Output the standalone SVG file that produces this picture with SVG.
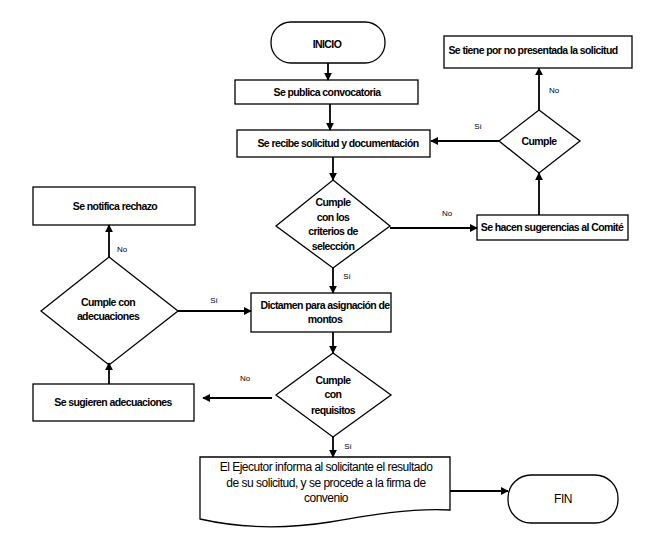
<svg xmlns="http://www.w3.org/2000/svg" width="664" height="550" viewBox="0 0 664 550">
<defs>
<marker id="ah" viewBox="0 0 10 10" refX="9" refY="5" markerWidth="4.5" markerHeight="4.5" orient="auto" markerUnits="strokeWidth">
<path d="M0,0 L10,5 L0,10 z" fill="#000"/>
</marker>
<style>
.box{fill:#fff;stroke:#000;stroke-width:1.3}
.t{font-family:"Liberation Sans",Arial,sans-serif;font-weight:bold;font-size:10.5px;letter-spacing:-0.6px;text-anchor:middle;fill:#000}
.n{font-family:"Liberation Sans",Arial,sans-serif;font-size:12px;letter-spacing:-0.5px;text-anchor:middle;fill:#000}
.l{font-family:"Liberation Sans",Arial,sans-serif;font-size:8px;text-anchor:middle;fill:#000}
.c{fill:none;stroke:#000;stroke-width:1.8;marker-end:url(#ah)}
</style>
</defs>
<rect width="664" height="550" fill="#fff"/>
<g id="inicio"><rect class="box" x="271" y="22" width="114" height="41" rx="20"/><text class="t" x="327" y="48">INICIO</text></g>
<g id="publica"><rect class="box" x="235" y="80" width="183" height="24"/><text class="t" x="327" y="96">Se publica convocatoria</text></g>
<g id="recibe"><rect class="box" x="237" y="130" width="193" height="27"/><text class="t" x="338" y="147">Se recibe solicitud y documentación</text></g>
<g id="criterios"><polygon class="box" points="333,180 390,226 333,268 276,226"/>
<text class="t" x="333" y="206">Cumple</text><text class="t" x="333" y="221">con los</text><text class="t" x="333" y="235">criterios de</text><text class="t" x="333" y="250">selección</text></g>
<g id="sugerencias"><rect class="box" x="477" y="215" width="151" height="25"/><text class="t" x="552" y="231">Se hacen sugerencias al Comité</text></g>
<g id="cumple"><polygon class="box" points="539,110 580,141 539,173 499,141"/><text class="t" x="539" y="145">Cumple</text></g>
<g id="nopresentada"><rect class="box" x="444" y="36" width="188" height="32"/><text class="t" x="533" y="54">Se tiene por no presentada la solicitud</text></g>
<g id="dictamen"><rect class="box" x="251" y="293" width="140" height="39"/><text class="t" x="325" y="309">Dictamen para asignación de</text><text class="t" x="325" y="323">montos</text></g>
<g id="adecuaciones"><polygon class="box" points="109,257 178,311 109,365 41,311"/><text class="t" x="108" y="306">Cumple con</text><text class="t" x="108" y="320">adecuaciones</text></g>
<g id="rechazo"><rect class="box" x="33" y="187" width="162" height="38"/><text class="t" x="115" y="210">Se notifica rechazo</text></g>
<g id="requisitos"><polygon class="box" points="333,353 391,395 333,437 276,395"/><text class="t" x="333" y="384">Cumple</text><text class="t" x="333" y="398">con</text><text class="t" x="333" y="414">requisitos</text></g>
<g id="sugieren"><rect class="box" x="33" y="384" width="161" height="37"/><text class="t" x="113" y="406">Se sugieren adecuaciones</text></g>
<g id="ejecutor"><path class="box" d="M200,457 H450 V510 C410,508 370,515 330,522 C280,530 240,528 200,519 Z"/>
<text class="n" x="326" y="471">El Ejecutor informa al solicitante el resultado</text><text class="n" x="326" y="487">de su solicitud, y se procede a la firma de</text><text class="n" x="326" y="502">convenio</text></g>
<g id="fin"><rect class="box" x="508" y="475" width="110" height="48" rx="23"/><text class="n" x="563" y="503">FIN</text></g>
<g id="connectors">
<line class="c" x1="328" y1="63" x2="328" y2="80"/>
<line class="c" x1="330" y1="104" x2="330" y2="130"/>
<line class="c" x1="333" y1="157" x2="333" y2="180"/>
<line class="c" x1="390" y1="228" x2="477" y2="228"/>
<line class="c" x1="539" y1="215" x2="539" y2="173"/>
<line class="c" x1="539" y1="110" x2="539" y2="68"/>
<line class="c" x1="499" y1="141" x2="431" y2="141"/>
<line class="c" x1="333" y1="268" x2="333" y2="293"/>
<line class="c" x1="178" y1="311" x2="251" y2="311"/>
<line class="c" x1="109" y1="257" x2="109" y2="225"/>
<line class="c" x1="333" y1="332" x2="333" y2="353"/>
<line class="c" x1="272" y1="398" x2="203" y2="398"/>
<line class="c" x1="109" y1="384" x2="109" y2="363"/>
<line class="c" x1="333" y1="437" x2="333" y2="457"/>
<line class="c" x1="450" y1="491" x2="508" y2="491"/>
<text class="l" x="447" y="216">No</text>
<text class="l" x="478" y="129">Sí</text>
<text class="l" x="554" y="93">No</text>
<text class="l" x="347" y="279">Sí</text>
<text class="l" x="122" y="252">No</text>
<text class="l" x="214" y="303">Sí</text>
<text class="l" x="245" y="381">No</text>
<text class="l" x="348" y="449">Sí</text>
</g>
</svg>
